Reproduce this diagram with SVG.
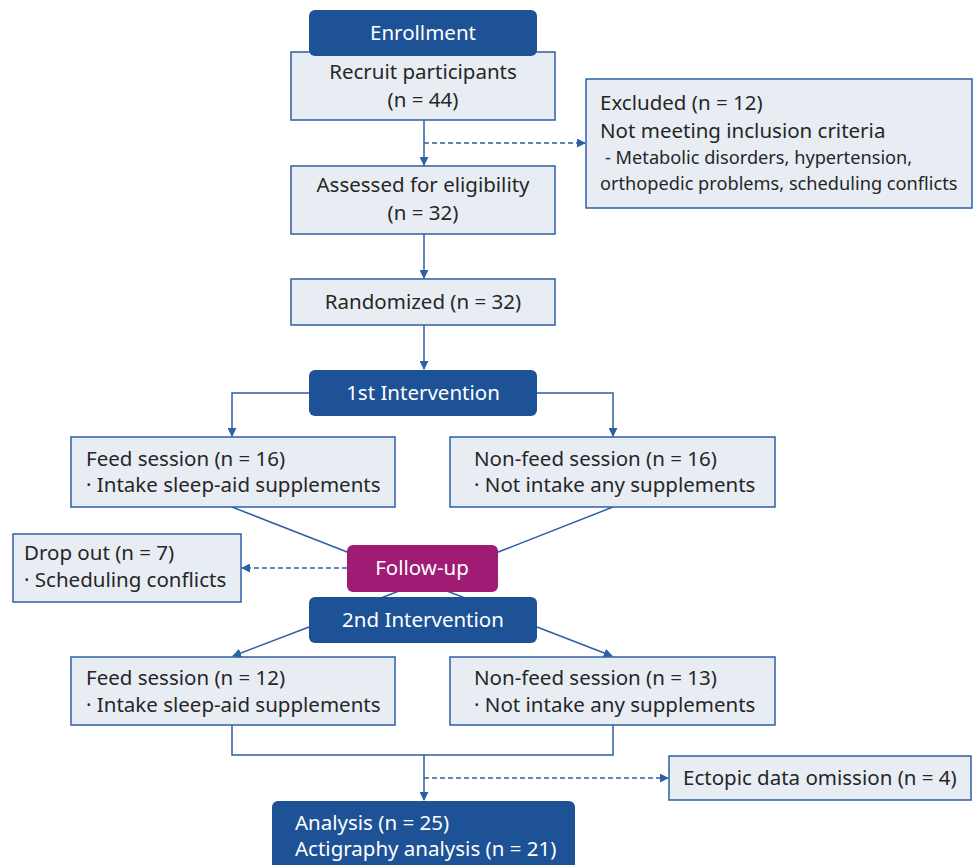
<svg xmlns="http://www.w3.org/2000/svg" width="979" height="865" viewBox="0 0 979 865">
<defs>
<style>
.box{fill:#e8edf4;stroke:#2e5fa3;stroke-width:1.5}
.hd{fill:#1d5296}
.fu{fill:#a01c74}
.t{font-family:"Noto Sans","Open Sans",sans-serif;font-size:20.5px;fill:#262626}
.ts{font-family:"Noto Sans","Open Sans",sans-serif;font-size:18.2px;fill:#262626}
.w{font-family:"Noto Sans","Open Sans",sans-serif;font-size:20.5px;fill:#ffffff}
.c{text-anchor:middle}
.ln{fill:none;stroke:#2e5fa3;stroke-width:1.5}
.dash{fill:none;stroke:#2e5fa3;stroke-width:1.5;stroke-dasharray:5,3}
</style>
<marker id="ah" viewBox="0 0 10 10" refX="9" refY="5" markerWidth="9" markerHeight="9" markerUnits="userSpaceOnUse" orient="auto">
<path d="M0,0 L10,5 L0,10 z" fill="#2e5fa3"/>
</marker>
</defs>
<g id="connectors">
<path class="ln" d="M424,120 V165" marker-end="url(#ah)"/>
<path class="dash" d="M424,143 H585" marker-end="url(#ah)"/>
<path class="ln" d="M424,234 V278" marker-end="url(#ah)"/>
<path class="ln" d="M424,325 V369" marker-end="url(#ah)"/>
<path class="ln" d="M309,393 H232 V436" marker-end="url(#ah)"/>
<path class="ln" d="M537,393 H613 V436" marker-end="url(#ah)"/>
<path class="ln" d="M232,507 L470,600"/>
<path class="ln" d="M613,507 L376,600"/>
<path class="dash" d="M347,568 H242" marker-end="url(#ah)"/>
<path class="ln" d="M309,627 L233,656" marker-end="url(#ah)"/>
<path class="ln" d="M537,627 L612,656" marker-end="url(#ah)"/>
<path class="ln" d="M232,725 V755 H613 V725"/>
<path class="ln" d="M424,755 V800" marker-end="url(#ah)"/>
<path class="dash" d="M424,778 H668" marker-end="url(#ah)"/>
</g>
<g id="recruit">
<rect class="box" x="291" y="52" width="264" height="68"/>
<text class="t c" x="423" y="79">Recruit participants</text>
<text class="t c" x="423" y="107">(n = 44)</text>
</g>
<g id="enrollment">
<rect class="hd" x="309" y="10" width="228" height="46" rx="6"/>
<text class="w c" x="423" y="40">Enrollment</text>
</g>
<g id="excluded">
<rect class="box" x="586" y="79" width="386" height="129"/>
<text class="t" x="600" y="110">Excluded (n = 12)</text>
<text class="t" x="600" y="138">Not meeting inclusion criteria</text>
<text class="ts" x="605" y="164">- Metabolic disorders, hypertension,</text>
<text class="ts" x="600" y="190">orthopedic problems, scheduling conflicts</text>
</g>
<g id="assessed">
<rect class="box" x="291" y="166" width="264" height="68"/>
<text class="t c" x="423" y="192">Assessed for eligibility</text>
<text class="t c" x="423" y="220">(n = 32)</text>
</g>
<g id="randomized">
<rect class="box" x="291" y="279" width="264" height="46"/>
<text class="t c" x="423" y="309">Randomized (n = 32)</text>
</g>
<g id="intervention1">
<rect class="hd" x="309" y="370" width="228" height="46" rx="6"/>
<text class="w c" x="423" y="400">1st Intervention</text>
</g>
<g id="feed1">
<rect class="box" x="71" y="437" width="324" height="70"/>
<text class="t" x="86" y="466">Feed session (n = 16)</text>
<text class="t" x="86" y="492">· Intake sleep-aid supplements</text>
</g>
<g id="nonfeed1">
<rect class="box" x="450" y="437" width="325" height="70"/>
<text class="t" x="474" y="466">Non-feed session (n = 16)</text>
<text class="t" x="474" y="492">· Not intake any supplements</text>
</g>
<g id="dropout">
<rect class="box" x="13" y="534" width="228" height="68"/>
<text class="t" x="24" y="560">Drop out (n = 7)</text>
<text class="t" x="24" y="587">· Scheduling conflicts</text>
</g>
<g id="followup">
<rect class="fu" x="347" y="545" width="151" height="47" rx="6"/>
<text class="w c" x="422" y="575">Follow-up</text>
</g>
<g id="intervention2">
<rect class="hd" x="309" y="597" width="228" height="46" rx="6"/>
<text class="w c" x="423" y="627">2nd Intervention</text>
</g>
<g id="feed2">
<rect class="box" x="71" y="657" width="324" height="68"/>
<text class="t" x="86" y="685">Feed session (n = 12)</text>
<text class="t" x="86" y="712">· Intake sleep-aid supplements</text>
</g>
<g id="nonfeed2">
<rect class="box" x="450" y="657" width="325" height="68"/>
<text class="t" x="474" y="685">Non-feed session (n = 13)</text>
<text class="t" x="474" y="712">· Not intake any supplements</text>
</g>
<g id="ectopic">
<rect class="box" x="669" y="756" width="302" height="44"/>
<text class="t" x="683" y="785">Ectopic data omission (n = 4)</text>
</g>
<g id="analysis">
<rect class="hd" x="272" y="801" width="303" height="75" rx="6"/>
<text class="w" x="295" y="830">Analysis (n = 25)</text>
<text class="w" x="295" y="856">Actigraphy analysis (n = 21)</text>
</g>
</svg>
